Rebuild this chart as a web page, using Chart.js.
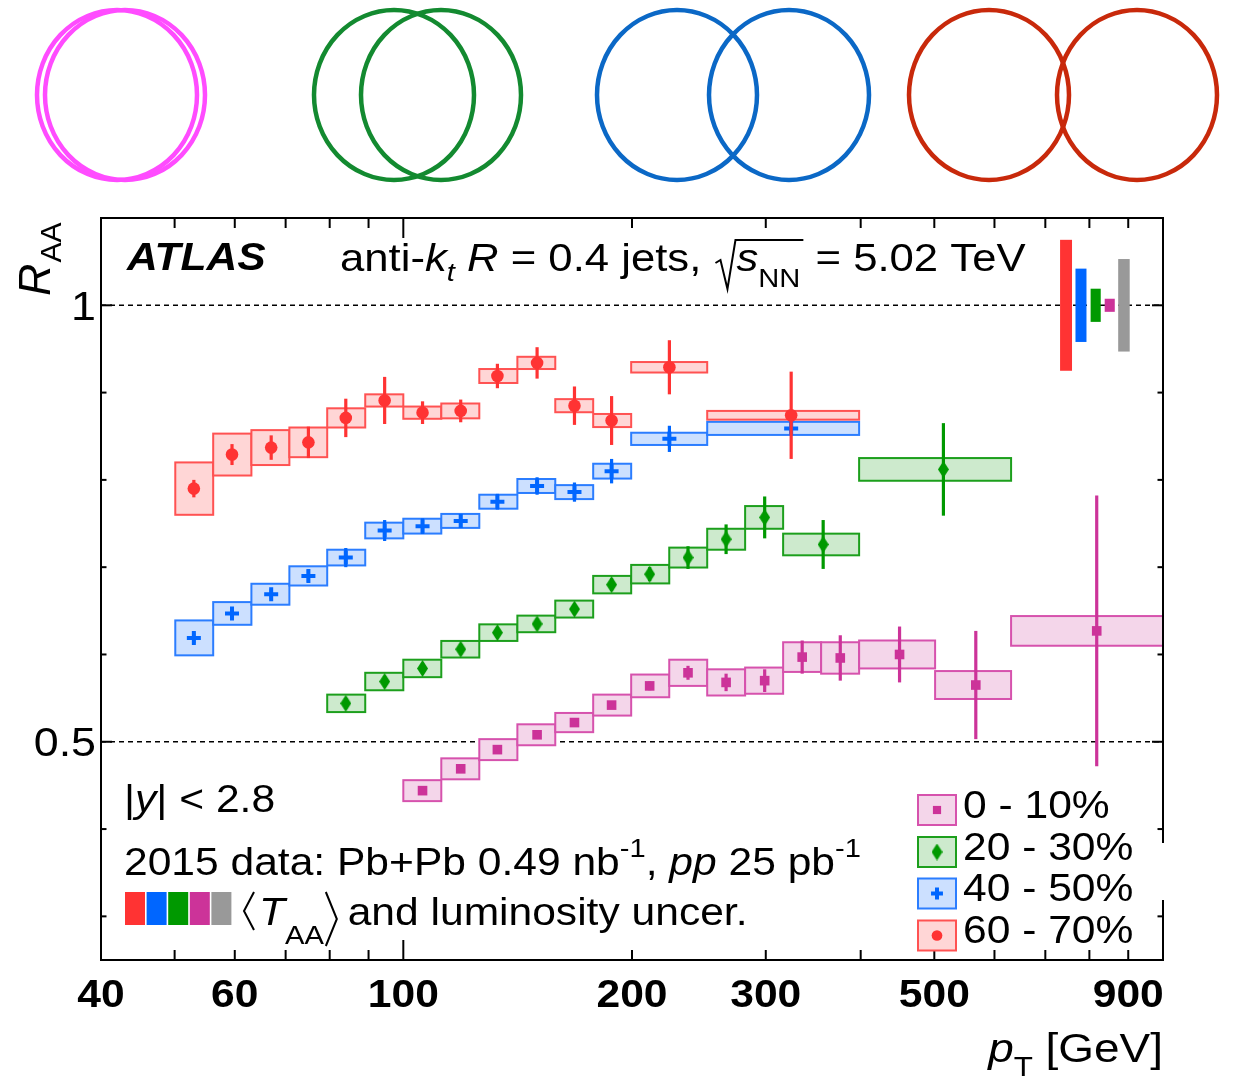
<!DOCTYPE html>
<html lang="en">
<head>
<meta charset="UTF-8">
<title>ATLAS jet R_AA vs pT</title>
<script src="https://cdn.jsdelivr.net/npm/chart.js"></script>
<style>
  html, body { margin: 0; padding: 0; background: #fff; }
  canvas { display: block; }
</style>
</head>
<body>
<canvas id="raaChart" width="1238" height="1086"></canvas>
<script>
// axis ticks
const xTicks = [40, 50, 60, 70, 80, 90, 100, 200, 300, 400, 500, 600, 700, 800, 900, 1000];
const xLabels = [40, 60, 100, 200, 300, 500, 900];
const yTicks = [0.3, 0.4, 0.5, 0.6, 0.7, 0.8, 0.9, 1.0];
const yLabels = [0.5, 1];

// 0 - 10%
const c0Lo   = [100, 112.2, 125.9, 141.3, 158.5, 177.8, 199.5, 223.9, 251.2, 281.8, 316.2, 354.8, 398.1, 501.2, 631];
const c0Hi   = [112.2, 125.9, 141.3, 158.5, 177.8, 199.5, 223.9, 251.2, 281.8, 316.2, 354.8, 398.1, 501.2, 631, 1000];
const c0Pt   = [106, 119, 133, 150, 168, 188, 211, 237, 266, 299, 335, 376, 450, 567, 818];
const c0Raa  = [0.444, 0.469, 0.491, 0.508, 0.522, 0.542, 0.564, 0.579, 0.568, 0.570, 0.597, 0.596, 0.600, 0.565, 0.627];
const c0Stat = [0.004, 0.004, 0.004, 0.004, 0.004, 0.004, 0.005, 0.008, 0.010, 0.013, 0.019, 0.026, 0.032, 0.062, 0.155];
const c0Sys  = [0.012, 0.012, 0.012, 0.012, 0.011, 0.012, 0.013, 0.015, 0.015, 0.015, 0.017, 0.018, 0.016, 0.016, 0.017];

// 20 - 30%
const c20Lo   = [79.4, 89.1, 100, 112.2, 125.9, 141.3, 158.5, 177.8, 199.5, 223.9, 251.2, 281.8, 316.2, 398.1];
const c20Hi   = [89.1, 100, 112.2, 125.9, 141.3, 158.5, 177.8, 199.5, 223.9, 251.2, 281.8, 316.2, 398.1, 631];
const c20Pt   = [84, 94.5, 106, 119, 133, 150, 168, 188, 211, 237, 266, 299, 357, 514];
const c20Raa  = [0.544, 0.569, 0.584, 0.606, 0.625, 0.635, 0.652, 0.680, 0.692, 0.711, 0.732, 0.757, 0.726, 0.812];
const c20Stat = [0.006, 0.006, 0.006, 0.006, 0.006, 0.006, 0.006, 0.007, 0.008, 0.013, 0.017, 0.024, 0.028, 0.053];
const c20Sys  = [0.010, 0.010, 0.010, 0.0095, 0.0095, 0.0095, 0.0097, 0.010, 0.0106, 0.0114, 0.012, 0.013, 0.0124, 0.013];

// 40 - 50%
const c40Lo   = [50.1, 56.2, 63.1, 70.8, 79.4, 89.1, 100, 112.2, 125.9, 141.3, 158.5, 177.8, 199.5, 251.2];
const c40Hi   = [56.2, 63.1, 70.8, 79.4, 89.1, 100, 112.2, 125.9, 141.3, 158.5, 177.8, 199.5, 251.2, 398.1];
const c40Pt   = [53, 59.5, 67, 75, 84, 94.5, 106, 119, 133, 150, 168, 188, 224, 324];
const c40Raa  = [0.619, 0.647, 0.669, 0.690, 0.711, 0.742, 0.747, 0.753, 0.775, 0.793, 0.786, 0.810, 0.847, 0.859];
const c40Stat = [0.006, 0.006, 0.006, 0.007, 0.011, 0.012, 0.009, 0.008, 0.009, 0.010, 0.011, 0.014, 0.015, 0.006];
const c40Sys  = [0.020, 0.013, 0.012, 0.011, 0.009, 0.009, 0.0085, 0.008, 0.008, 0.008, 0.008, 0.0085, 0.007, 0.0075];

// 60 - 70%
const c60Lo   = [50.1, 56.2, 63.1, 70.8, 79.4, 89.1, 100, 112.2, 125.9, 141.3, 158.5, 177.8, 199.5, 251.2];
const c60Hi   = [56.2, 63.1, 70.8, 79.4, 89.1, 100, 112.2, 125.9, 141.3, 158.5, 177.8, 199.5, 251.2, 398.1];
const c60Pt   = [53, 59.5, 67, 75, 84, 94.5, 106, 119, 133, 150, 168, 188, 224, 324];
const c60Raa  = [0.790, 0.829, 0.837, 0.843, 0.871, 0.891, 0.877, 0.879, 0.919, 0.934, 0.885, 0.868, 0.929, 0.874];
const c60Stat = [0.010, 0.012, 0.014, 0.018, 0.022, 0.027, 0.013, 0.013, 0.014, 0.018, 0.022, 0.028, 0.031, 0.050];
const c60Sys  = [0.030, 0.024, 0.020, 0.017, 0.011, 0.007, 0.007, 0.0085, 0.008, 0.007, 0.0075, 0.0075, 0.006, 0.005];

// <TAA> and luminosity uncertainties (60-70, 40-50, 20-30, 0-10, lumi), drawn around 1
const normLo  = [732, 767, 803, 838, 873];
const normHi  = [759, 793, 828, 864, 904];
const normErr = [0.075, 0.042, 0.019, 0.0075, 0.053];
const normColors = ['#ff3333', '#0066ff', '#009900', '#cc3399', '#999999'];

const FONT = '"Liberation Sans", Arial, Helvetica, sans-serif';
const SX = 1.12; // text is drawn slightly wide
const fnt = (size, style) => (style ? style + ' ' : '') + size + 'px ' + FONT;

function diamond(w, h, color) {
  const c = document.createElement('canvas');
  c.width = w; c.height = h;
  const g = c.getContext('2d');
  g.fillStyle = color;
  g.beginPath();
  g.moveTo(w / 2, 0); g.lineTo(w, h / 2); g.lineTo(w / 2, h); g.lineTo(0, h / 2);
  g.closePath(); g.fill();
  return c;
}

const series = [
  { label: '0 - 10%', lo: c0Lo, hi: c0Hi, pt: c0Pt, raa: c0Raa, stat: c0Stat, sys: c0Sys,
    color: '#cc3399', fill: '#f4d6ea', line: '#d652ad', style: 'rect', radius: 6.8, bw: 0 },
  { label: '20 - 30%', lo: c20Lo, hi: c20Hi, pt: c20Pt, raa: c20Raa, stat: c20Stat, sys: c20Sys,
    color: '#009900', fill: '#cdeacd', line: '#1c9f1c', style: diamond(11, 17, '#009900'), radius: 6, bw: 0 },
  { label: '40 - 50%', lo: c40Lo, hi: c40Hi, pt: c40Pt, raa: c40Raa, stat: c40Stat, sys: c40Sys,
    color: '#0066ff', fill: '#cce0ff', line: '#2b7dff', style: 'cross', radius: 7, bw: 4 },
  { label: '60 - 70%', lo: c60Lo, hi: c60Hi, pt: c60Pt, raa: c60Raa, stat: c60Stat, sys: c60Sys,
    color: '#ff3333', fill: '#ffd6d6', line: '#ff5252', style: 'circle', radius: 6.3, bw: 0 }
];

// writes a row of text pieces [text, font, dy]; returns the pen position
function runText(ctx, x, y, parts, align) {
  ctx.save();
  let w = 0;
  parts.forEach(p => { ctx.font = p[1]; w += ctx.measureText(p[0]).width; });
  ctx.translate(x, y);
  ctx.scale(SX, 1);
  ctx.textAlign = 'left';
  ctx.textBaseline = 'alphabetic';
  ctx.fillStyle = '#000';
  let px = align === 'right' ? -w : 0;
  parts.forEach(p => {
    ctx.font = p[1];
    ctx.fillText(p[0], px, p[2] || 0);
    px += ctx.measureText(p[0]).width;
  });
  ctx.restore();
  return align === 'right' ? x : x + px * SX;
}

function seg(ctx, pts) {
  ctx.beginPath();
  ctx.moveTo(pts[0][0], pts[0][1]);
  for (let i = 1; i < pts.length; i++) ctx.lineTo(pts[i][0], pts[i][1]);
  ctx.stroke();
}

const atlasPlugin = {
  id: 'atlasPlot',
  beforeDraw(chart) {
    const ctx = chart.ctx;
    ctx.save();
    ctx.fillStyle = '#fff';
    ctx.fillRect(0, 0, chart.width, chart.height);
    // overlap sketches above the plot
    const rings = [
      ['#ff4cff', 117, 125], ['#138a30', 394, 441], ['#0b68c6', 677, 789], ['#c8290b', 989, 1137]
    ];
    ctx.lineWidth = 4.5;
    rings.forEach(r => {
      ctx.strokeStyle = r[0];
      [r[1], r[2]].forEach(cx => {
        ctx.beginPath();
        ctx.ellipse(cx, 95, 80, 85, 0, 0, Math.PI * 2);
        ctx.stroke();
      });
    });
    ctx.restore();
  },
  beforeDatasetsDraw(chart) {
    const { ctx, chartArea: a, scales: { x, y } } = chart;
    ctx.save();
    ctx.strokeStyle = '#000';
    ctx.lineWidth = 1.5;
    ctx.setLineDash([5, 4]);
    [1, 0.5].forEach(v => {
      const py = y.getPixelForValue(v);
      seg(ctx, [[a.left, py], [a.right, py]]);
    });
    ctx.setLineDash([]);
    normLo.forEach((lo, i) => {
      const x0 = x.getPixelForValue(lo), x1 = x.getPixelForValue(normHi[i]);
      const y0 = y.getPixelForValue(1 + normErr[i]), y1 = y.getPixelForValue(1 - normErr[i]);
      ctx.fillStyle = normColors[i];
      ctx.fillRect(x0, y0, x1 - x0, y1 - y0);
    });
    ctx.restore();
  },
  beforeDatasetDraw(chart, args) {
    const ds = chart.data.datasets[args.index];
    const { ctx, scales: { x, y } } = chart;
    ctx.save();
    ds.raa.forEach((v, i) => {
      const x0 = x.getPixelForValue(ds.lo[i]), x1 = x.getPixelForValue(ds.hi[i]);
      const y0 = y.getPixelForValue(v + ds.sys[i]), y1 = y.getPixelForValue(v - ds.sys[i]);
      ctx.fillStyle = ds.fill;
      ctx.fillRect(x0, y0, x1 - x0, y1 - y0);
      ctx.strokeStyle = ds.line;
      ctx.lineWidth = 2;
      ctx.strokeRect(x0, y0, x1 - x0, y1 - y0);
    });
    ctx.strokeStyle = ds.color;
    ctx.lineWidth = 3.2;
    ds.raa.forEach((v, i) => {
      const px = x.getPixelForValue(ds.pt[i]);
      seg(ctx, [[px, y.getPixelForValue(v + ds.stat[i])], [px, y.getPixelForValue(v - ds.stat[i])]]);
    });
    ctx.restore();
  },
  afterDatasetsDraw(chart) {
    const { ctx, chartArea: a, scales: { x, y } } = chart;
    ctx.save();
    ctx.strokeStyle = '#000';
    ctx.lineWidth = 2;
    ctx.strokeRect(a.left, a.top, a.right - a.left, a.bottom - a.top);
    xTicks.forEach(v => {
      const px = x.getPixelForValue(v);
      const len = (v === 100 || v === 1000) ? 20 : 10;
      seg(ctx, [[px, a.bottom], [px, a.bottom - len]]);
      seg(ctx, [[px, a.top], [px, a.top + len]]);
    });
    yTicks.forEach(v => {
      const py = y.getPixelForValue(v);
      const len = yLabels.includes(v) ? 11 : 5.5;
      seg(ctx, [[a.left, py], [a.left + len, py]]);
      seg(ctx, [[a.right, py], [a.right - len, py]]);
    });
    // legend box covers a piece of the right frame
    ctx.fillStyle = '#fff';
    ctx.fillRect(a.right - 4, 843, 8, 57);

    // tick labels from the scales
    x.ticks.forEach(t => {
      if (!xLabels.includes(t.value)) return;
      const s = String(t.value);
      ctx.font = fnt(38, 'bold');
      const w = ctx.measureText(s).width * SX;
      runText(ctx, x.getPixelForValue(t.value) - w / 2, 1007, [[s, fnt(38, 'bold')]]);
    });
    y.ticks.forEach(t => {
      if (!yLabels.includes(t.value)) return;
      runText(ctx, 96, y.getPixelForValue(t.value) + 14.5, [[String(t.value), fnt(40)]], 'right');
    });
    ctx.restore();
  },
  afterDraw(chart) {
    const ctx = chart.ctx;
    const F = fnt(38), FI = fnt(38, 'italic'), FS = fnt(26), FSI = fnt(26, 'italic');
    const T = fnt(39), TI = fnt(39, 'italic');
    ctx.save();

    // header
    runText(ctx, 127, 270, [['ATLAS', fnt(38, 'italic bold')]]);
    let pen = runText(ctx, 340, 271, [['anti-', T], ['k', TI], ['t', FSI, 10], [' ', T], ['R', TI], [' = 0.4 jets, ', T]]);
    const r0 = pen + 2;
    const s0 = pen + 23;
    pen = runText(ctx, s0, 271, [['s', TI], ['NN', FS, 16]]);
    ctx.strokeStyle = '#000';
    ctx.lineWidth = 2;
    seg(ctx, [[r0, 263], [r0 + 5, 260], [r0 + 12, 289], [r0 + 20, 240], [pen + 3, 240]]);
    runText(ctx, pen + 3, 271, [[' = 5.02 TeV', T]]);

    // lower-left notes
    runText(ctx, 124, 812, [['|', F], ['y', FI], ['| < 2.8', F]]);
    runText(ctx, 124, 875, [['2015 data: Pb+Pb 0.49 nb', F], ['-1', FS, -18], [', ', F], ['pp', FI], [' 25 pb', F], ['-1', FS, -18]]);
    normColors.forEach((c, i) => {
      ctx.fillStyle = c;
      ctx.fillRect(125 + i * 21.6, 892, 20, 33);
    });
    ctx.strokeStyle = '#000';
    ctx.lineWidth = 2;
    seg(ctx, [[254, 892], [244, 911], [254, 930]]);
    const tEnd = runText(ctx, 259, 925, [['T', FI], ['AA', FS, 19]]);
    seg(ctx, [[tEnd + 2, 892], [tEnd + 13, 919], [tEnd + 2, 946]]);
    runText(ctx, tEnd + 12, 925, [[' and luminosity uncer.', F]]);

    // centrality legend
    const legY = [810, 852, 893.5, 935.5];
    series.forEach((s, i) => {
      const cy = legY[i];
      ctx.fillStyle = s.fill;
      ctx.fillRect(918, cy - 15, 38, 30);
      ctx.strokeStyle = s.line;
      ctx.lineWidth = 2;
      ctx.strokeRect(918, cy - 15, 38, 30);
      ctx.fillStyle = s.color;
      ctx.strokeStyle = s.color;
      ctx.lineWidth = s.bw;
      Chart.helpers.drawPoint(ctx, { pointStyle: s.style, radius: s.radius * 0.85, rotation: 0, borderWidth: s.bw }, 937, cy);
      runText(ctx, 963, cy + 7.5, [[s.label, F]]);
    });

    // axis titles
    runText(ctx, 1163, 1062, [['p', fnt(41, 'italic')], ['T', fnt(28), 14], [' [GeV]', fnt(41)]], 'right');
    ctx.save();
    ctx.translate(50, 296);
    ctx.rotate(-Math.PI / 2);
    ctx.fillStyle = '#000';
    ctx.font = fnt(45, 'italic');
    ctx.fillText('R', 0, 0);
    const wR = ctx.measureText('R').width;
    ctx.font = fnt(30);
    ctx.fillText('AA', wR + 1, 11);
    ctx.restore();

    ctx.restore();
  }
};

new Chart(document.getElementById('raaChart'), {
  type: 'scatter',
  data: {
    datasets: series.map((s, i) => ({
      label: s.label,
      data: s.pt.map((v, j) => ({ x: v, y: s.raa[j] })),
      order: series.length - 1 - i,
      pointStyle: s.style,
      pointRadius: s.radius,
      pointBackgroundColor: s.color,
      pointBorderColor: s.color,
      pointBorderWidth: s.bw,
      lo: s.lo, hi: s.hi, pt: s.pt, raa: s.raa, stat: s.stat, sys: s.sys,
      color: s.color, fill: s.fill, line: s.line
    }))
  },
  options: {
    responsive: false,
    animation: false,
    layout: { padding: { top: 218, right: 75, left: 0, bottom: 0 } },
    plugins: { legend: { display: false }, tooltip: { enabled: false } },
    scales: {
      x: {
        type: 'logarithmic', min: 40, max: 1000,
        grid: { display: false }, border: { display: false },
        ticks: { display: false, autoSkip: false },
        afterBuildTicks: s => { s.ticks = xTicks.map(v => ({ value: v })); },
        afterFit: s => { s.height = 126; }
      },
      y: {
        type: 'linear', min: 0.25, max: 1.1,
        grid: { display: false }, border: { display: false },
        ticks: { display: false, autoSkip: false },
        afterBuildTicks: s => { s.ticks = yTicks.map(v => ({ value: v })); },
        afterFit: s => { s.width = 101; }
      }
    }
  },
  plugins: [atlasPlugin]
});
</script>
</body>
</html>
